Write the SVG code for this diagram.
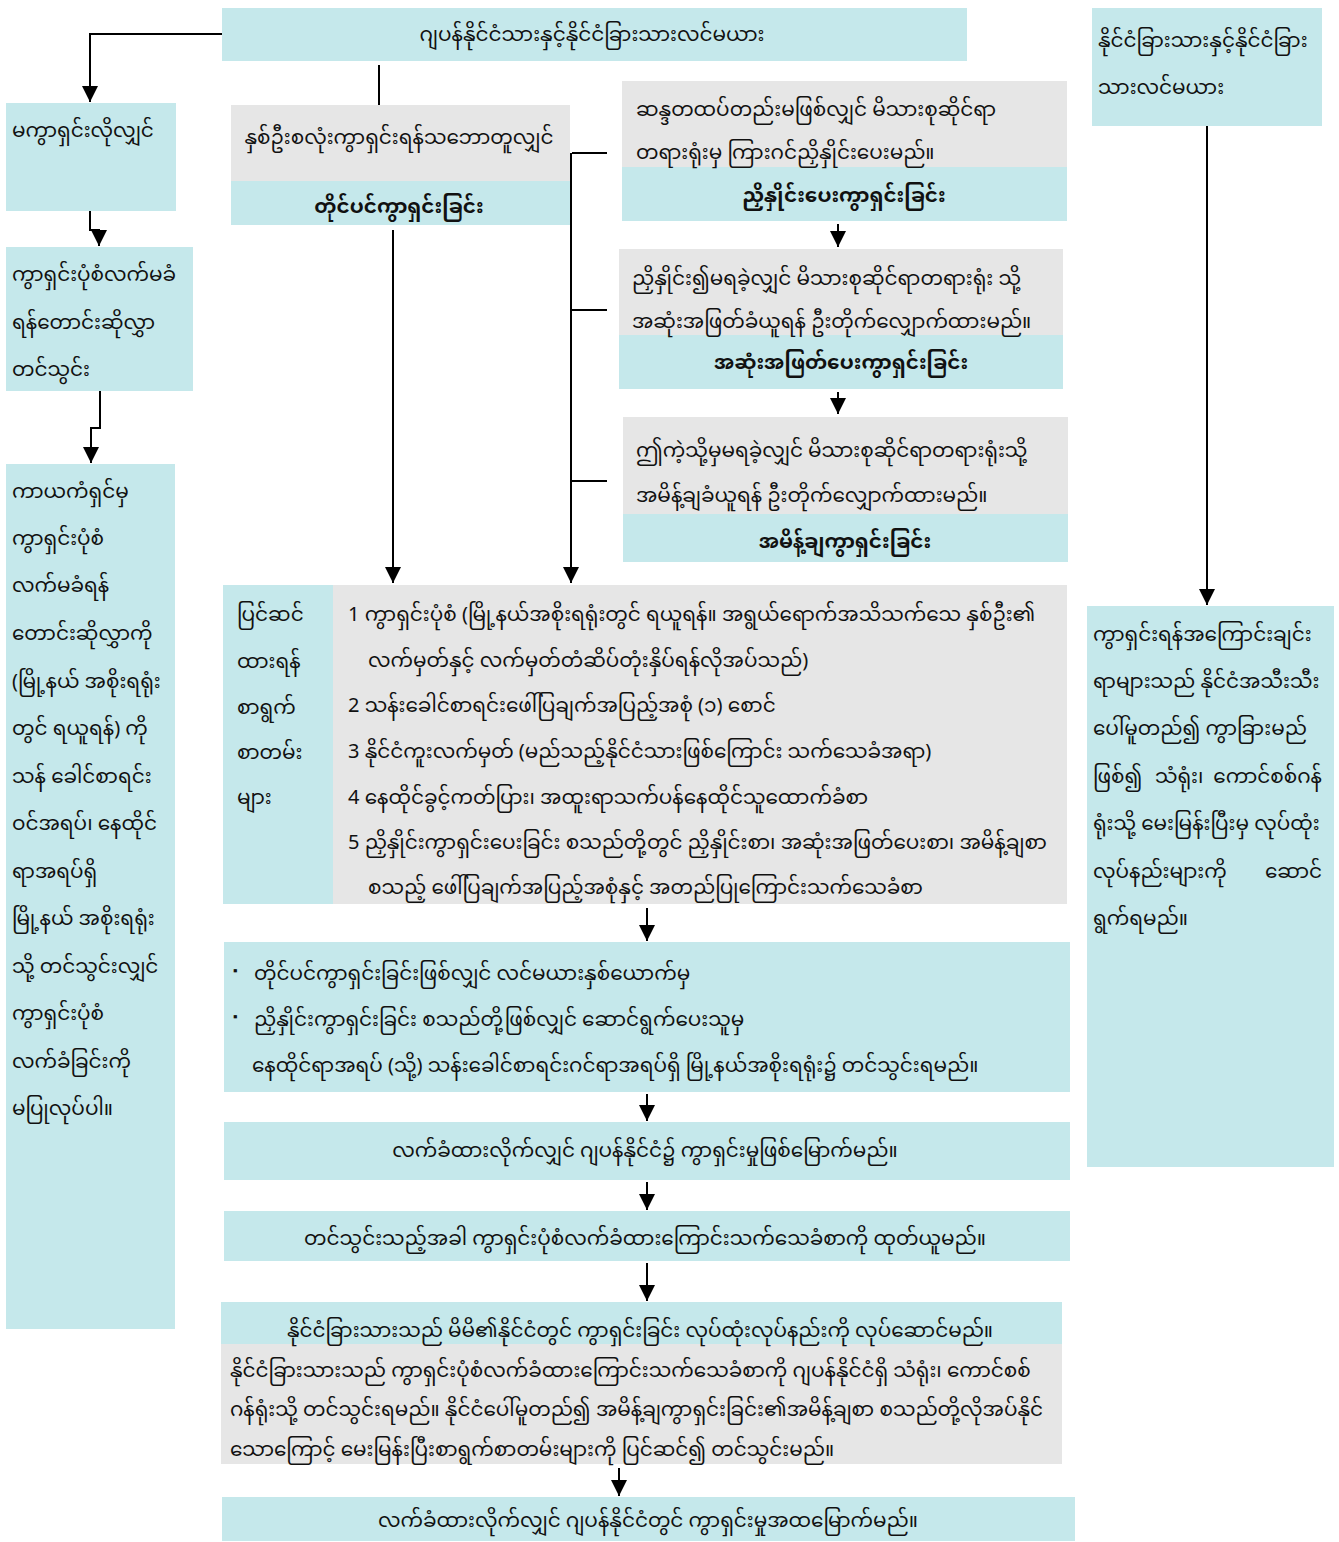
<svg xmlns="http://www.w3.org/2000/svg" width="1339" height="1542" viewBox="0 0 1339 1542">
<defs>
<marker id="ah" viewBox="0 0 10 10" refX="10" refY="5" markerWidth="16" markerHeight="16" markerUnits="userSpaceOnUse" orient="auto"><path d="M0,0 L10,5 L0,10 z" fill="#000"/></marker>
<style>
.c{fill:#c5e8eb}
.g{fill:#e6e6e6}
text{font-family:"Noto Sans Myanmar","Padauk","Myanmar Text","Noto Sans",sans-serif;font-size:20px;fill:#111}
.m{text-anchor:middle}
.e{text-anchor:end}
.b{font-weight:bold}
.bul{font-size:13px}
.ln{fill:none;stroke:#000;stroke-width:2}
.la{fill:none;stroke:#000;stroke-width:2;marker-end:url(#ah)}
</style>
</defs>
<rect width="1339" height="1542" fill="#fff"/>
<g id="n-top"><rect class="c" x="222" y="8" width="745" height="53"/><text class="m" x="592" y="41">ဂျပန်နိုင်ငံသားနှင့်နိုင်ငံခြားသားလင်မယား</text></g>
<g id="n-foreign"><rect class="c" x="1092" y="8" width="230" height="118"/><text x="1098" y="47">နိုင်ငံခြားသားနှင့်နိုင်ငံခြား</text><text x="1098" y="94">သားလင်မယား</text></g>
<g id="n-nodiv"><rect class="c" x="6" y="103" width="170" height="108"/><text x="12" y="137">မကွာရှင်းလိုလျှင်</text></g>
<g id="n-req"><rect class="c" x="6" y="247" width="187" height="144"/><text x="12" y="281">ကွာရှင်းပုံစံလက်မခံ</text><text x="12" y="329">ရန်တောင်းဆိုလွှာ</text><text x="12" y="376">တင်သွင်း</text></g>
<g id="n-leftlong"><rect class="c" x="6" y="464" width="169" height="865"/>
<text x="12" y="498">ကာယကံရှင်မှ</text>
<text x="12" y="545">ကွာရှင်းပုံစံ</text>
<text x="12" y="592">လက်မခံရန်</text>
<text x="12" y="640">တောင်းဆိုလွှာကို</text>
<text x="12" y="688">(မြို့နယ် အစိုးရရုံး</text>
<text x="12" y="735">တွင် ရယူရန်) ကို</text>
<text x="12" y="783">သန် ခေါင်စာရင်း</text>
<text x="12" y="830">ဝင်အရပ်၊ နေထိုင်</text>
<text x="12" y="878">ရာအရပ်ရှိ</text>
<text x="12" y="925">မြို့နယ် အစိုးရရုံး</text>
<text x="12" y="973">သို့ တင်သွင်းလျှင်</text>
<text x="12" y="1020">ကွာရှင်းပုံစံ</text>
<text x="12" y="1068">လက်ခံခြင်းကို</text>
<text x="12" y="1115">မပြုလုပ်ပါ။</text>
</g>
<g id="n-consult"><rect class="g" x="231" y="105" width="339" height="76"/><rect class="c" x="231" y="181" width="339" height="44"/><text class="m" x="399" y="144">နှစ်ဦးစလုံးကွာရှင်းရန်သဘောတူလျှင်</text><text class="m b" x="399" y="213">တိုင်ပင်ကွာရှင်းခြင်း</text></g>
<g id="n-mediation"><rect class="g" x="622" y="81" width="445" height="86"/><rect class="c" x="622" y="167" width="445" height="54"/><text x="636" y="116">ဆန္ဒတထပ်တည်းမဖြစ်လျှင် မိသားစုဆိုင်ရာ</text><text x="636" y="159">တရားရုံးမှ ကြားဂင်ညှိနှိုင်းပေးမည်။</text><text class="m b" x="844" y="202">ညှိနှိုင်းပေးကွာရှင်းခြင်း</text></g>
<g id="n-trial"><rect class="g" x="619" y="249" width="444" height="86"/><rect class="c" x="619" y="335" width="444" height="54"/><text x="632" y="285">ညှိနှိုင်း၍မရခဲ့လျှင် မိသားစုဆိုင်ရာတရားရုံး သို့</text><text x="632" y="328">အဆုံးအဖြတ်ခံယူရန် ဦးတိုက်လျှောက်ထားမည်။</text><text class="m b" x="841" y="369">အဆုံးအဖြတ်ပေးကွာရှင်းခြင်း</text></g>
<g id="n-judgement"><rect class="g" x="623" y="417" width="445" height="97"/><rect class="c" x="623" y="514" width="445" height="48"/><text x="636" y="457">ဤကဲ့သို့မှမရခဲ့လျှင် မိသားစုဆိုင်ရာတရားရုံးသို့</text><text x="636" y="502">အမိန့်ချခံယူရန် ဦးတိုက်လျှောက်ထားမည်။</text><text class="m b" x="845" y="548">အမိန့်ချကွာရှင်းခြင်း</text></g>
<g id="n-docs"><rect class="c" x="223" y="585" width="110" height="319"/><rect class="g" x="333" y="585" width="734" height="319"/>
<text x="237" y="621">ပြင်ဆင်</text><text x="237" y="668">ထားရန်</text><text x="237" y="714">စာရွက်</text><text x="237" y="759">စာတမ်း</text><text x="237" y="804">များ</text>
<text x="348" y="621">1  ကွာရှင်းပုံစံ (မြို့နယ်အစိုးရရုံးတွင် ရယူရန်။ အရွယ်ရောက်အသိသက်သေ နှစ်ဦး၏</text>
<text x="368" y="667">လက်မှတ်နှင့် လက်မှတ်တံဆိပ်တုံးနှိပ်ရန်လိုအပ်သည်)</text>
<text x="348" y="712">2  သန်းခေါင်စာရင်းဖေါ်ပြချက်အပြည့်အစုံ (၁) စောင်</text>
<text x="348" y="758">3  နိုင်ငံကူးလက်မှတ် (မည်သည့်နိုင်ငံသားဖြစ်ကြောင်း သက်သေခံအရာ)</text>
<text x="348" y="804">4  နေထိုင်ခွင့်ကတ်ပြား၊ အထူးရာသက်ပန်နေထိုင်သူထောက်ခံစာ</text>
<text x="348" y="849">5  ညှိနှိုင်းကွာရှင်းပေးခြင်း စသည်တို့တွင် ညှိနှိုင်းစာ၊ အဆုံးအဖြတ်ပေးစာ၊ အမိန့်ချစာ</text>
<text x="368" y="894">စသည့် ဖေါ်ပြချက်အပြည့်အစုံနှင့် အတည်ပြုကြောင်းသက်သေခံစာ</text>
</g>
<g id="n-submit"><rect class="c" x="224" y="942" width="846" height="150"/>
<text class="bul" x="233" y="975">▪</text><text x="254" y="980">တိုင်ပင်ကွာရှင်းခြင်းဖြစ်လျှင် လင်မယားနှစ်ယောက်မှ</text>
<text class="bul" x="233" y="1021">▪</text><text x="254" y="1026">ညှိနှိုင်းကွာရှင်းခြင်း စသည်တို့ဖြစ်လျှင် ဆောင်ရွက်ပေးသူမှ</text>
<text x="252" y="1072">နေထိုင်ရာအရပ် (သို့) သန်းခေါင်စာရင်းဂင်ရာအရပ်ရှိ မြို့နယ်အစိုးရရုံး၌ တင်သွင်းရမည်။</text>
</g>
<g id="n-accepted"><rect class="c" x="224" y="1122" width="846" height="58"/><text class="m" x="645" y="1157">လက်ခံထားလိုက်လျှင် ဂျပန်နိုင်ငံ၌ ကွာရှင်းမှုဖြစ်မြောက်မည်။</text></g>
<g id="n-cert"><rect class="c" x="224" y="1211" width="846" height="50"/><text class="m" x="645" y="1245">တင်သွင်းသည့်အခါ ကွာရှင်းပုံစံလက်ခံထားကြောင်းသက်သေခံစာကို ထုတ်ယူမည်။</text></g>
<g id="n-abroad"><rect class="c" x="221" y="1302" width="841" height="42"/><rect class="g" x="221" y="1344" width="841" height="120"/>
<text class="m" x="640" y="1337">နိုင်ငံခြားသားသည် မိမိ၏နိုင်ငံတွင် ကွာရှင်းခြင်း လုပ်ထုံးလုပ်နည်းကို လုပ်ဆောင်မည်။</text>
<text x="230" y="1377">နိုင်ငံခြားသားသည် ကွာရှင်းပုံစံလက်ခံထားကြောင်းသက်သေခံစာကို ဂျပန်နိုင်ငံရှိ သံရုံး၊ ကောင်စစ်</text>
<text x="230" y="1416">ဂန်ရုံးသို့ တင်သွင်းရမည်။ နိုင်ငံပေါ်မူတည်၍ အမိန့်ချကွာရှင်းခြင်း၏အမိန့်ချစာ စသည်တို့လိုအပ်နိုင်</text>
<text x="230" y="1456">သောကြောင့် မေးမြန်းပြီးစာရွက်စာတမ်းများကို ပြင်ဆင်၍ တင်သွင်းမည်။</text>
</g>
<g id="n-final"><rect class="c" x="222" y="1497" width="853" height="44"/><text class="m" x="648" y="1527">လက်ခံထားလိုက်လျှင် ဂျပန်နိုင်ငံတွင် ကွာရှင်းမှုအထမြောက်မည်။</text></g>
<g id="n-reasons"><rect class="c" x="1087" y="606" width="247" height="561"/>
<text x="1093" y="641">ကွာရှင်းရန်အကြောင်းချင်း</text>
<text x="1093" y="688">ရာများသည် နိုင်ငံအသီးသီး</text>
<text x="1093" y="735">ပေါ်မူတည်၍ ကွာခြားမည်</text>
<text x="1093" y="783">ဖြစ်၍</text><text x="1155" y="783">သံရုံး၊</text><text class="e" x="1322" y="783">ကောင်စစ်ဂန်</text>
<text x="1093" y="830">ရုံးသို့ မေးမြန်းပြီးမှ လုပ်ထုံး</text>
<text x="1093" y="878">လုပ်နည်းများကို</text><text class="e" x="1322" y="878">ဆောင်</text>
<text x="1093" y="925">ရွက်ရမည်။</text>
</g>
<g id="connectors">
<path class="la" d="M222,34 H90 V102"/>
<path class="ln" d="M379,65 V105"/>
<path class="la" d="M90,211 V230 H99 V246"/>
<path class="la" d="M100,391 V428 H91 V463"/>
<path class="la" d="M393,230 V583"/>
<path class="ln" d="M572,153 H607"/>
<path class="la" d="M571,153 V583"/>
<path class="ln" d="M571,310 H607"/>
<path class="ln" d="M571,481 H607"/>
<path class="la" d="M838,224 V247"/>
<path class="la" d="M838,392 V414"/>
<path class="la" d="M1207,126 V605"/>
<path class="la" d="M647,908 V941"/>
<path class="la" d="M647,1094 V1121"/>
<path class="la" d="M647,1182 V1210"/>
<path class="la" d="M647,1263 V1301"/>
<path class="la" d="M619,1468 V1496"/>
</g>
</svg>
